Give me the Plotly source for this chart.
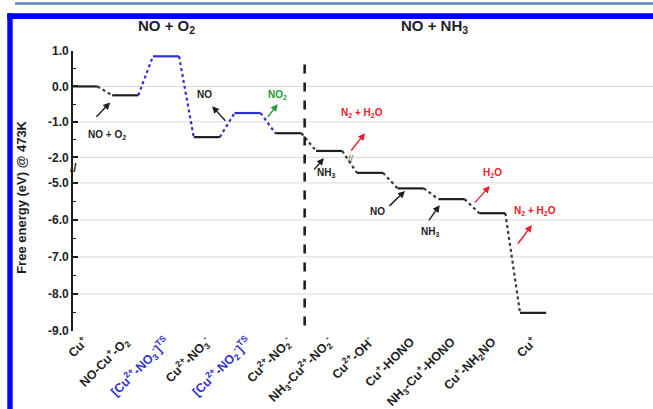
import plotly.graph_objects as go

# ---------------- data ----------------
state_labels = [
    "Cu<sup>+</sup>",
    "NO-Cu<sup>+</sup>-O<sub>2</sub>",
    "[Cu<sup>2+</sup>-NO<sub>3</sub><sup>-</sup>]<sup>TS</sup>",
    "Cu<sup>2+</sup>-NO<sub>3</sub><sup>-</sup>",
    "[Cu<sup>2+</sup>-NO<sub>2</sub><sup>-</sup>]<sup>TS</sup>",
    "Cu<sup>2+</sup>-NO<sub>2</sub><sup>-</sup>",
    "NH<sub>3</sub>-Cu<sup>2+</sup>-NO<sub>2</sub><sup>-</sup>",
    "Cu<sup>2+</sup>-OH<sup>-</sup>",
    "Cu<sup>+</sup>-HONO",
    "NH<sub>3</sub>-Cu<sup>+</sup>-HONO",
    "Cu<sup>+</sup>-NH<sub>2</sub>NO",
    "Cu<sup>+</sup>",
]
free_energy = [0.0, -0.25, 0.85, -1.43, -0.75, -1.32, -1.82, -4.73, -5.15, -5.44, -5.82, -8.51]
is_transition_state = [False, False, True, False, True, False, False, False, False, False, False, False]
blue_connector = [False, True, True, True, True, False, False, False, False, False, False]

y_tick_values = [1.0, 0.0, -1.0, -2.0, -5.0, -6.0, -7.0, -8.0, -9.0]
y_tick_text = ["1.0", "0.0", "-1.0", "-2.0", "-5.0", "-6.0", "-7.0", "-8.0", "-9.0"]
y_minor_values = [0.5, -0.5, -1.5, -5.5, -6.5, -7.5, -8.5]
grid_values = [0.0, -1.0, -2.0, -5.0, -6.0, -7.0, -8.0]

section_split = 5.4  # position of the dashed separator between the two reactions

# ---------------- styling ----------------
FONT = "Liberation Sans, Arial, sans-serif"
BLACK = "#1e1e1e"
BLUE = "#3030d0"
RED = "#e8202a"
GREEN = "#1e9a34"
HALF_W = 0.32


# broken y-axis: top segment unchanged, bottom segment shifted up
def ty(e):
    if e >= -3.0:
        return e
    return -2.72 + (e + 5.0) * 1.045


n = len(free_energy)
xs = list(range(n))
ys = [ty(e) for e in free_energy]

fig = go.Figure()

# connectors
for want_blue, color in [(False, "#3a3a3a"), (True, BLUE)]:
    cx, cy = [], []
    for i in range(n - 1):
        if blue_connector[i] == want_blue:
            cx += [xs[i] + HALF_W, xs[i + 1] - HALF_W, None]
            cy += [ys[i], ys[i + 1], None]
    fig.add_trace(go.Scatter(x=cx, y=cy, mode="lines",
                             line=dict(color=color, width=2.2, dash="dot"),
                             hoverinfo="skip", showlegend=False))

# levels
for want_ts, color in [(False, BLACK), (True, BLUE)]:
    lx, ly = [], []
    for i in range(n):
        if is_transition_state[i] == want_ts:
            lx += [xs[i] - HALF_W, xs[i] + HALF_W, None]
            ly += [ys[i], ys[i], None]
    fig.add_trace(go.Scatter(x=lx, y=ly, mode="lines",
                             line=dict(color=color, width=2.2),
                             hoverinfo="skip", showlegend=False))

tick_text_x = []
for lab, ts in zip(state_labels, is_transition_state):
    if ts:
        tick_text_x.append(f"<span style='color:{BLUE}'><b>{lab}</b></span>")
    else:
        tick_text_x.append(f"<b>{lab}</b>")

fig.update_layout(
    width=653, height=409,
    margin=dict(l=73, r=0, t=51, b=78),
    paper_bgcolor="white", plot_bgcolor="white",
    font=dict(family=FONT, color=BLACK),
    xaxis=dict(range=[-0.28, 13.94], tickmode="array", tickvals=xs, ticktext=tick_text_x,
               tickangle=-45, tickfont=dict(size=12.5, color=BLACK, family=FONT),
               showgrid=False, zeroline=False, showline=False, ticks="",
               automargin=False, fixedrange=True),
    yaxis=dict(range=[ty(-9.0), 1.0], tickmode="array",
               tickvals=[ty(v) for v in y_tick_values],
               ticktext=[f"<b>{t}</b>" for t in y_tick_text],
               tickfont=dict(size=12, color=BLACK, family=FONT),
               ticks="inside", ticklen=5, tickwidth=1.6, tickcolor=BLACK,
               minor=dict(tickmode="array", tickvals=[ty(v) for v in y_minor_values],
                          ticks="inside", ticklen=3, tickwidth=1.4, tickcolor=BLACK,
                          showgrid=False),
               showline=True, linecolor=BLACK, linewidth=1.8,
               showgrid=False, zeroline=False, automargin=False, fixedrange=True),
)

shapes = []
# grid lines
for g in grid_values:
    shapes.append(dict(type="line", xref="paper", yref="y", x0=0, x1=1, y0=ty(g), y1=ty(g),
                       line=dict(color="#dadada", width=1), layer="below"))
# dashed separator
shapes.append(dict(type="line", xref="x", yref="y", x0=section_split, x1=section_split,
                   y0=ty(-8.85), y1=0.68, line=dict(color=BLACK, width=2.6, dash="dash")))
# page frame decoration
shapes.append(dict(type="line", xref="paper", yref="paper", x0=-0.1, x1=1.0, y0=1.1696, y1=1.1696,
                   line=dict(color="#5a84be", width=2.5)))
shapes.append(dict(type="rect", xref="paper", yref="paper", x0=-0.1133, x1=1.0, y0=1.1143, y1=1.1346,
                   fillcolor="#0000ff", line=dict(width=0)))
shapes.append(dict(type="rect", xref="paper", yref="paper", x0=-0.1133, x1=-0.1040, y0=-0.2786, y1=1.1346,
                   fillcolor="#0000ff", line=dict(width=0)))
fig.update_layout(shapes=shapes)

ann = []
# section titles
ann.append(dict(text="<b>NO + O<sub>2</sub></b>", xref="x", yref="paper", x=2.02, y=1.086,
                xanchor="center", yanchor="middle",
                showarrow=False, font=dict(size=15, color=BLACK)))
ann.append(dict(text="<b>NO + NH<sub>3</sub></b>", xref="x", yref="paper", x=8.59, y=1.086,
                xanchor="center", yanchor="middle",
                showarrow=False, font=dict(size=15, color=BLACK)))
# y-axis title
ann.append(dict(text="<b>Free energy (eV) @ 473K</b>", xref="paper", yref="paper", x=-0.088, y=0.479,
                xanchor="center", yanchor="middle",
                textangle=-90, showarrow=False, font=dict(size=13, color=BLACK)))
# axis break marks
ann.append(dict(text="<b>//</b>", xref="paper", yref="y", x=0, y=-2.3, xanchor="center",
                yanchor="middle", showarrow=False, font=dict(size=12, color=BLACK)))
ann.append(dict(text="//", xref="x", yref="y", x=6.53, y=-2.06, showarrow=False,
                font=dict(size=9, color="#444444")))

# labels and arrows: (text, color, label_x, label_y, tail_x, tail_y, head_x, head_y)
arrow_notes = [
    ("NO + O<sub>2</sub>", BLACK, 0.55, -1.37, 0.26, -0.90, 0.63, -0.45),
    ("NO", BLACK, 2.95, -0.22, 3.49, -1.01, 3.13, -0.56),
    ("NO<sub>2</sub>", GREEN, 4.74, -0.25, 4.47, -0.90, 4.74, -0.50),
    ("NH<sub>3</sub>", BLACK, 5.92, -2.45, 5.60, -2.39, 5.87, -2.02),
    ("N<sub>2</sub> + H<sub>2</sub>O", RED, 6.80, -0.75, 6.51, -1.85, 6.88, -1.32),
    ("NO", BLACK, 7.19, -3.52, 7.44, -3.41, 7.86, -2.95),
    ("NH<sub>3</sub>", BLACK, 8.47, -4.11, 8.42, -3.82, 8.71, -3.35),
    ("H<sub>2</sub>O", RED, 10.01, -2.45, 9.54, -3.32, 9.94, -2.81),
    ("N<sub>2</sub> + H<sub>2</sub>O", RED, 11.04, -3.52, 10.60, -4.48, 10.97, -3.91),
]
for text, color, lx, ly, tx, tyy, hx, hy in arrow_notes:
    ann.append(dict(text=f"<b>{text}</b>", xref="x", yref="y", x=lx, y=ly, showarrow=False,
                    font=dict(size=10, color=color)))
    ann.append(dict(text="", xref="x", yref="y", x=hx, y=hy, ax=tx, ay=tyy,
                    axref="x", ayref="y", showarrow=True, arrowhead=2, arrowsize=1,
                    arrowwidth=1.4, arrowcolor=color))
fig.update_layout(annotations=ann)

fig.write_html("out.html", config={"displayModeBar": False},
               post_script="document.body.style.margin='0';document.body.style.overflow='hidden';")
